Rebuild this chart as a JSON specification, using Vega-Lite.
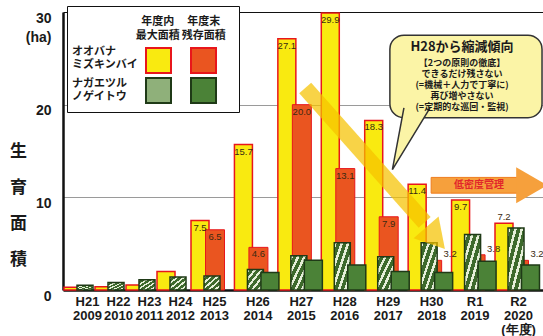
{
  "$schema": "https://vega.github.io/schema/vega-lite/v6.json",
  "width": 480,
  "height": 278,
  "autosize": {"type": "none"},
  "padding": {"left": 63, "top": 12, "right": 0, "bottom": 46},
  "background": "white",
  "config": {"view": {"stroke": null}, "font": "Noto Sans CJK JP"},
  "data": {"values": [
    {"yr": 2009, "max": 0.3, "end": null, "nmax": 0.5, "nend": null},
    {"yr": 2010, "max": 0.35, "end": null, "nmax": 0.8, "nend": null},
    {"yr": 2011, "max": 0.55, "end": null, "nmax": 1.1, "nend": null},
    {"yr": 2012, "max": 2.0, "end": null, "nmax": 1.4, "nend": null},
    {"yr": 2013, "max": 7.5, "end": 6.5, "nmax": 1.5, "nend": null},
    {"yr": 2014, "max": 15.7, "end": 4.6, "nmax": 2.2, "nend": 1.9},
    {"yr": 2015, "max": 27.1, "end": 20.0, "nmax": 3.7, "nend": 3.2},
    {"yr": 2016, "max": 29.9, "end": 13.1, "nmax": 5.1, "nend": 2.7},
    {"yr": 2017, "max": 18.3, "end": 7.9, "nmax": 3.6, "nend": 2.0},
    {"yr": 2018, "max": 11.4, "end": 3.2, "nmax": 5.1, "nend": 1.9},
    {"yr": 2019, "max": 9.7, "end": 3.8, "nmax": 6.0, "nend": 3.1},
    {"yr": 2020, "max": 7.2, "end": 3.2, "nmax": 6.7, "nend": 2.7}
  ]},
  "layer": [
    {
      "data": {"values": [{"sp": "O"}, {"sp": "N"}]},
      "mark": {"type": "point", "opacity": 0},
      "encoding": {
        "color": {
          "field": "sp", "type": "nominal",
          "scale": {"domain": ["O", "N"], "range": ["#ffffff", "#ffffff"]},
          "legend": {
            "orient": "none", "legendX": 4, "legendY": -6,
            "title": ["\u200b\u3000\u3000\u3000\u3000\u3000\u2002\u2004年度内\u3000\u2009年度末\u200b", "\u200b\u3000\u3000\u3000\u3000\u3000\u2004最大面積\u2009残存面積\u2009\u200b"],
            "titleFont": "Noto Sans CJK JP", "titleFontSize": 11, "titleFontWeight": "bold", "titleColor": "#1a1a1a",
            "titleLineHeight": 13.5, "titlePadding": 6, "titleLimit": 300,
            "labelExpr": "datum.value == 'O' ? ['オオバナ', 'ミズキンバイ'] : ['ナガエツル', 'ノゲイトウ']",
            "labelFont": "Noto Sans CJK JP", "labelFontSize": 11, "labelFontWeight": "bold", "labelColor": "#1a1a1a",
            "labelOffset": -16, "labelLimit": 200,
            "symbolOpacity": 0, "symbolSize": 4, "rowPadding": 7,
            "padding": 10, "fillColor": "#ffffff", "strokeColor": "#111111"
          }
        }
      }
    },
    {
      "mark": {"type": "bar", "width": 18, "xOffset": -14, "strokeWidth": 1.5},
      "encoding": {
        "x": {
          "field": "yr", "type": "quantitative", "title": null,
          "scale": {"domain": [2008.226, 2009, 2012, 2013, 2020, 2020.576], "range": [0, 24, 117, 151, 455, 480], "nice": false, "zero": false},
          "axis": {
            "values": [2009, 2010, 2011, 2012, 2013, 2014, 2015, 2016, 2017, 2018, 2019, 2020],
            "labelExpr": "datum.value == 2020 ? ['R2', '2020', '(年度)'] : datum.value == 2019 ? ['R1', '2019'] : ['H' + (datum.value - 1988), '' + datum.value]",
            "labelFont": "Liberation Sans", "labelFontSize": 13, "labelFontWeight": "bold", "labelColor": "#1a1a1a",
            "labelLineHeight": 14, "labelPadding": 5, "labelBaseline": "top",
            "ticks": false, "tickSize": 0, "grid": false,
            "domain": true, "domainColor": "#111111", "domainWidth": 2.5, "labelFlush": false, "labelOverlap": false
          }
        },
        "y": {
          "field": "max", "type": "quantitative",
          "scale": {"domain": [0, 30], "nice": false},
          "axis": {
            "values": [0, 10, 20, 30],
            "title": ["生", "育", "面", "積"],
            "titleAngle": 0, "titleX": -45, "titleY": 139, "titleAlign": "center", "titleBaseline": "middle",
            "titleFont": "Noto Sans CJK JP", "titleFontSize": 17, "titleFontWeight": "bold", "titleLineHeight": 36, "titleColor": "#1a1a1a",
            "labelExpr": "datum.value == 30 ? ['30', '(ha)'] : datum.label",
            "labelFont": "Liberation Sans", "labelFontSize": 14, "labelFontWeight": "bold", "labelColor": "#1a1a1a",
            "labelBaseline": "top", "labelOffset": -1, "labelLineHeight": 19, "labelPadding": 12,
            "ticks": false, "tickSize": 0,
            "grid": true, "gridColor": {"condition": {"test": "datum.value === 30", "value": "#111111"}, "value": "#9a9a9a"}, "gridWidth": 1.2,
            "domain": true, "domainColor": "#111111", "domainWidth": 2.5
          }
        },
        "fill": {
          "datum": "a", "type": "nominal",
          "scale": {"domain": ["a", "b", "c", "d"], "range": ["#f9ea10", "#ea5520", "#8fb07a", "#4b8237"]},
          "legend": {
            "orient": "none", "legendX": 82, "legendY": 35, "title": null, "columns": 2, "direction": "horizontal",
            "labelExpr": "''", "labelOffset": 0, "symbolType": "square", "symbolSize": 625, "symbolStrokeWidth": 2,
            "columnPadding": 12, "rowPadding": -4, "padding": 0
          }
        },
        "stroke": {
          "datum": "a", "type": "nominal",
          "scale": {"domain": ["a", "b", "c", "d"], "range": ["#e8161b", "#e8161b", "#1f3a17", "#1f3a17"]},
          "legend": {
            "orient": "none", "legendX": 82, "legendY": 35, "title": null, "columns": 2, "direction": "horizontal",
            "labelExpr": "''", "labelOffset": 0, "symbolType": "square", "symbolSize": 625, "symbolStrokeWidth": 2,
            "columnPadding": 12, "rowPadding": -4, "padding": 0
          }
        }
      }
    },
    {
      "mark": {"type": "bar", "width": 19, "xOffset": 1, "strokeWidth": 1},
      "encoding": {
        "x": {"field": "yr", "type": "quantitative"},
        "y": {"field": "end", "type": "quantitative"},
        "fill": {"datum": "b", "type": "nominal"},
        "stroke": {"datum": "b", "type": "nominal"}
      }
    },
    {
      "mark": {
        "type": "bar", "width": 16, "xOffset": -2, "strokeWidth": 1.5,
        "fill": {
          "gradient": "linear", "x1": 0, "y1": 0, "x2": 1, "y2": 1,
          "stops": [
            {"offset": 0.0, "color": "#e6efd9"}, {"offset": 0.08, "color": "#e6efd9"},
            {"offset": 0.08, "color": "#3d6a2c"}, {"offset": 0.2, "color": "#3d6a2c"},
            {"offset": 0.2, "color": "#e6efd9"}, {"offset": 0.28, "color": "#e6efd9"},
            {"offset": 0.28, "color": "#3d6a2c"}, {"offset": 0.4, "color": "#3d6a2c"},
            {"offset": 0.4, "color": "#e6efd9"}, {"offset": 0.48, "color": "#e6efd9"},
            {"offset": 0.48, "color": "#3d6a2c"}, {"offset": 0.6, "color": "#3d6a2c"},
            {"offset": 0.6, "color": "#e6efd9"}, {"offset": 0.68, "color": "#e6efd9"},
            {"offset": 0.68, "color": "#3d6a2c"}, {"offset": 0.8, "color": "#3d6a2c"},
            {"offset": 0.8, "color": "#e6efd9"}, {"offset": 0.88, "color": "#e6efd9"},
            {"offset": 0.88, "color": "#3d6a2c"}, {"offset": 1.0, "color": "#3d6a2c"}
          ]
        }
      },
      "encoding": {
        "x": {"field": "yr", "type": "quantitative"},
        "y": {"field": "nmax", "type": "quantitative"},
        "stroke": {"datum": "c", "type": "nominal"}
      }
    },
    {
      "mark": {"type": "bar", "width": 18, "xOffset": 12.5, "strokeWidth": 1.5},
      "encoding": {
        "x": {"field": "yr", "type": "quantitative"},
        "y": {"field": "nend", "type": "quantitative"},
        "fill": {"datum": "d", "type": "nominal"},
        "stroke": {"datum": "d", "type": "nominal"}
      }
    },
    {
      "transform": [{"filter": "datum.max >= 5 && datum.yr < 2020"}],
      "mark": {"type": "text", "baseline": "top", "dy": 2, "xOffset": -14, "font": "Liberation Sans", "fontSize": 9.5, "fill": "#3a2a10"},
      "encoding": {
        "x": {"field": "yr", "type": "quantitative"},
        "y": {"field": "max", "type": "quantitative"},
        "text": {"field": "max", "type": "quantitative", "format": ".1f"}
      }
    },
    {
      "transform": [{"filter": "datum.yr == 2020"}],
      "mark": {"type": "text", "baseline": "bottom", "dy": -1, "xOffset": -14, "font": "Liberation Sans", "fontSize": 9.5, "fill": "#3a2a10"},
      "encoding": {
        "x": {"field": "yr", "type": "quantitative"},
        "y": {"field": "max", "type": "quantitative"},
        "text": {"field": "max", "type": "quantitative", "format": ".1f"}
      }
    },
    {
      "transform": [{"filter": "datum.end != null && datum.end >= 4.5"}],
      "mark": {"type": "text", "baseline": "top", "dy": 2, "xOffset": 1, "font": "Liberation Sans", "fontSize": 9.5, "fill": "#3a2a10"},
      "encoding": {
        "x": {"field": "yr", "type": "quantitative"},
        "y": {"field": "end", "type": "quantitative"},
        "text": {"field": "end", "type": "quantitative", "format": ".1f"}
      }
    },
    {
      "transform": [{"filter": "datum.end != null && datum.end < 4.5"}],
      "mark": {"type": "text", "baseline": "bottom", "dy": -1, "xOffset": 19, "font": "Liberation Sans", "fontSize": 9.5, "fill": "#3a2a10"},
      "encoding": {
        "x": {"field": "yr", "type": "quantitative"},
        "y": {"field": "end", "type": "quantitative"},
        "text": {"field": "end", "type": "quantitative", "format": ".1f"}
      }
    },
    {
      "data": {"values": [{"x": 2015.1, "y": 21.8, "x2": 2017.85, "y2": 7.3}]},
      "mark": {"type": "rule", "strokeWidth": 16, "color": "#f5c200", "opacity": 0.72, "strokeCap": "butt"},
      "encoding": {
        "x": {"field": "x", "type": "quantitative"},
        "y": {"field": "y", "type": "quantitative"},
        "x2": {"field": "x2"},
        "y2": {"field": "y2"}
      }
    },
    {
      "data": {"values": [{"x": 2018.1, "y": 5.6}]},
      "mark": {"type": "point", "shape": "triangle-down", "size": 1100, "angle": 319, "filled": true, "color": "#f5c200", "opacity": 0.72},
      "encoding": {
        "x": {"field": "x", "type": "quantitative"},
        "y": {"field": "y", "type": "quantitative"}
      }
    },
    {
      "data": {"values": [{"x": 2018.0, "x2": 2020.1, "y": 10.45, "y2": 12.15}]},
      "mark": {"type": "rect", "fill": "#f6a03c", "stroke": "#ef7d1e", "strokeWidth": 1},
      "encoding": {
        "x": {"field": "x", "type": "quantitative"},
        "x2": {"field": "x2"},
        "y": {"field": "y", "type": "quantitative"},
        "y2": {"field": "y2"}
      }
    },
    {
      "data": {"values": [{"x": 2020.39, "y": 11.3}]},
      "mark": {"type": "point", "shape": "triangle-right", "size": 1300, "filled": true, "color": "#f6a03c", "opacity": 1},
      "encoding": {
        "x": {"field": "x", "type": "quantitative"},
        "y": {"field": "y", "type": "quantitative"}
      }
    },
    {
      "data": {"values": [{"x": 2019.1, "y": 11.3, "t": "低密度管理"}]},
      "mark": {"type": "text", "fontSize": 10, "fontWeight": "bold", "fill": "#e2262b", "baseline": "middle"},
      "encoding": {
        "x": {"field": "x", "type": "quantitative"},
        "y": {"field": "y", "type": "quantitative"},
        "text": {"field": "t"}
      }
    },
    {
      "data": {"values": [{"x": 2017.05, "x2": 2020.68, "y": 18.6, "y2": 27.5}]},
      "mark": {"type": "rect", "fill": "#fbf4a6", "stroke": "#333333", "strokeWidth": 1.5, "cornerRadius": 14},
      "encoding": {
        "x": {"field": "x", "type": "quantitative"},
        "x2": {"field": "x2"},
        "y": {"field": "y", "type": "quantitative"},
        "y2": {"field": "y2"}
      }
    },
    {
      "data": {"values": [{"x": 2017.5, "y": 15.95}]},
      "mark": {"type": "point", "shape": "M-0.2,-1.25L-0.62,1L0.75,-1.25", "size": 3025, "filled": true, "fill": "#fbf4a6", "stroke": "#333333", "strokeWidth": 1.5, "opacity": 1},
      "encoding": {
        "x": {"field": "x", "type": "quantitative"},
        "y": {"field": "y", "type": "quantitative"}
      }
    },
    {
      "data": {"values": [{"x": 2018.71, "y": 26.2, "t": "H28から縮減傾向"}]},
      "mark": {"type": "text", "fontSize": 13, "fontWeight": "bold", "fill": "#1a1a1a", "baseline": "middle"},
      "encoding": {
        "x": {"field": "x", "type": "quantitative"},
        "y": {"field": "y", "type": "quantitative"},
        "text": {"field": "t"}
      }
    },
    {
      "data": {"values": [{"x": 2018.71, "y": 24.5, "t": "【2つの原則の徹底】\nできるだけ残さない\n(=機械＋人力で丁寧に)\n再び増やさない\n(=定期的な巡回・監視)"}]},
      "mark": {"type": "text", "fontSize": 9, "fontWeight": "bold", "fill": "#1a1a1a", "baseline": "middle", "lineBreak": "\n", "lineHeight": 11},
      "encoding": {
        "x": {"field": "x", "type": "quantitative"},
        "y": {"field": "y", "type": "quantitative"},
        "text": {"field": "t"}
      }
    }
  ]
}
